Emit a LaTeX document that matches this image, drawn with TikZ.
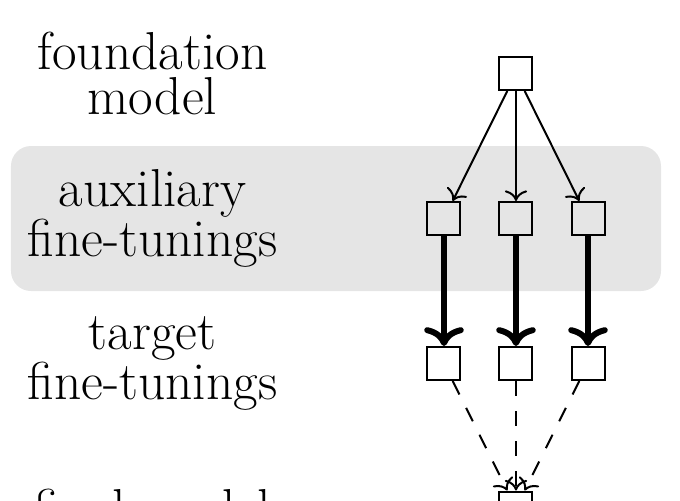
\documentclass[tikz,border=0pt]{standalone}
\usepackage{tikz}
\usetikzlibrary{arrows.meta}

\tikzset{
    model/.style={draw, minimum size=16.5pt, inner sep=0pt},
    caption/.style={align=center, font=\fontsize{26.7}{22.5}\selectfont},
}

\begin{document}
\begin{tikzpicture}[line width=1pt, >={To[scale=1.4]}]
    \clip (-258pt,36.75pt) rectangle (82pt,-213.25pt);
    \fill[black!10, rounded corners=10pt] (-252.5pt,-36.25pt) rectangle (72.5pt,-108.75pt);
    \node[caption] (lfound) at (-181.75pt,0) {foundation\\model};
    \node[caption] (laux) at (-181.75pt,-72.5pt) {auxiliary\\fine-tunings};
    \node[caption] (ltgt) at (-181.75pt,-145pt) {target\\fine-tunings};
    \node[caption] (lfinal) at (-181.75pt,-217.25pt) {final model};
    \node[model] (found) at (0,0) {};
    \foreach \i/\x in {1/-36pt, 2/0pt, 3/36pt} {
        \node[model] (aux\i) at (\x,-72.5pt) {};
        \node[model] (tgt\i) at (\x,-145pt) {};
        \draw[->] (found) -- (aux\i);
        \draw[-{To[scale=1.15]}, line width=3pt] (aux\i) -- (tgt\i);
    }
    \node[model] (final) at (0,-217.25pt) {};
    \foreach \i in {1,2,3}
        \draw[->, dash pattern=on 7.5pt off 7.5pt] (tgt\i) -- (final);
\end{tikzpicture}
\end{document}
